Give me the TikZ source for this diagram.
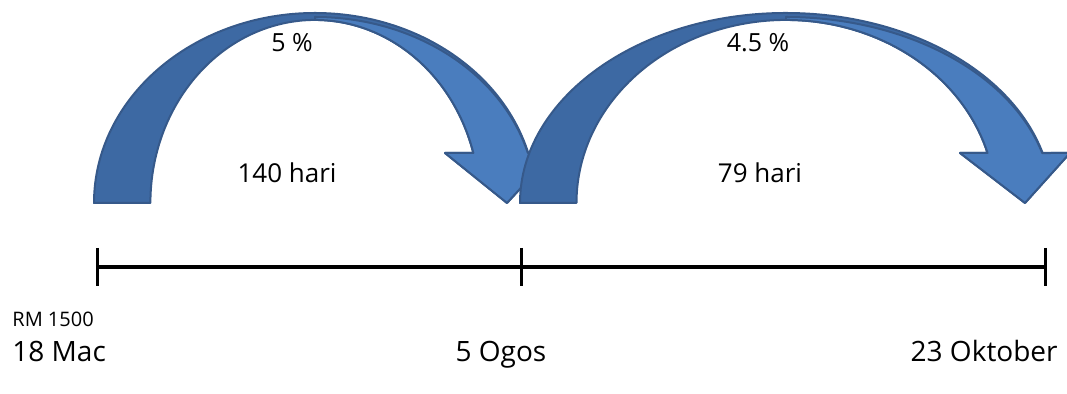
\documentclass[tikz,border=0pt]{standalone}
\usepackage{fontspec}
\setmainfont{Open Sans}
\usepackage{xcolor}
\usetikzlibrary{positioning}
\definecolor{arrowback}{HTML}{3D69A3}
\definecolor{arrowfront}{HTML}{4A7DBE}
\definecolor{arrowline}{HTML}{36598A}
\tikzset{
  backpart/.style={fill=arrowback, draw=arrowline, line width=1pt, line join=round},
  frontpart/.style={fill=arrowfront, draw=arrowline, line width=1pt, line join=round},
  tline/.style={line width=2pt, draw=black},
  tickmark/.style={line width=1.5pt, draw=black}
}
% #1 centre x, #2 outer radius, #3 inner radius, #4 tip x, #5 left barb x, #6 right barb x
\newcommand{\bentArrow}[6]{%
  \draw[backpart] ({#1-#2},191) arc[start angle=180, end angle=15.26, x radius=#2, y radius=190]
    -- (#6,241) -- (#4,191) -- (#5,241) -- ({#1+0.962*#3},241)
    arc[start angle=15.85, end angle=180, x radius=#3, y radius=183] -- cycle;
  \draw[frontpart] (#1,374) -- (#1,377) arc[start angle=90, end angle=15.59, x radius=#2, y radius=186]
    -- (#6,241) -- (#4,191) -- (#5,241) -- ({#1+0.962*#3},241)
    arc[start angle=15.85, end angle=90, x radius=#3, y radius=183] -- cycle;
}
\begin{document}
\begin{tikzpicture}[
  x=0.5pt, y=0.5pt,
  ratelbl/.style={font=\fontsize{12.5}{14}\selectfont, anchor=base, inner sep=0pt},
  daylbl/.style={font=\fontsize{13}{15}\selectfont, anchor=base, inner sep=0pt},
  datelbl/.style={font=\fontsize{14}{16}\selectfont, inner sep=0pt},
  amtlbl/.style={font=\fontsize{10}{12}\selectfont, inner sep=0pt}
]
  \useasboundingbox (0,0) rectangle (1067,394);

  % --- curved arrows ---
  \bentArrow{315}{221}{164.6}{507}{445}{553}
  \bentArrow{786}{266}{209.5}{1025}{960}{1070}

  \node[ratelbl] (r1) at (292,342) {5 \%};
  \node[ratelbl] (r2) at (758,342) {4.5 \%};
  \node[daylbl] (d1) at (287,211) {140 hari};
  \node[daylbl] (d2) at (760,211) {79 hari};

  % --- timeline ---
  \coordinate (m1) at (97,127);
  \coordinate (m2) at (521,127);
  \coordinate (m3) at (1045,127);
  \draw[tline] (m1) -- (m2) -- (m3);
  \draw[tickmark] (m1) ++(0,19) -- ++(0,-38);
  \draw[tickmark] (m2) ++(0,19) -- ++(0,-38);
  \draw[tickmark] (m3) ++(0,19) -- ++(0,-38);

  \node[amtlbl, anchor=base west] (amt) at (12,67) {RM 1500};
  \node[datelbl, anchor=base west] (dt1) at (12,32) {18 Mac};
  \node[datelbl, anchor=base] (dt2) at (501,32) {5 Ogos};
  \node[datelbl, anchor=base east] (dt3) at (1058,32) {23 Oktober};
\end{tikzpicture}
\end{document}
